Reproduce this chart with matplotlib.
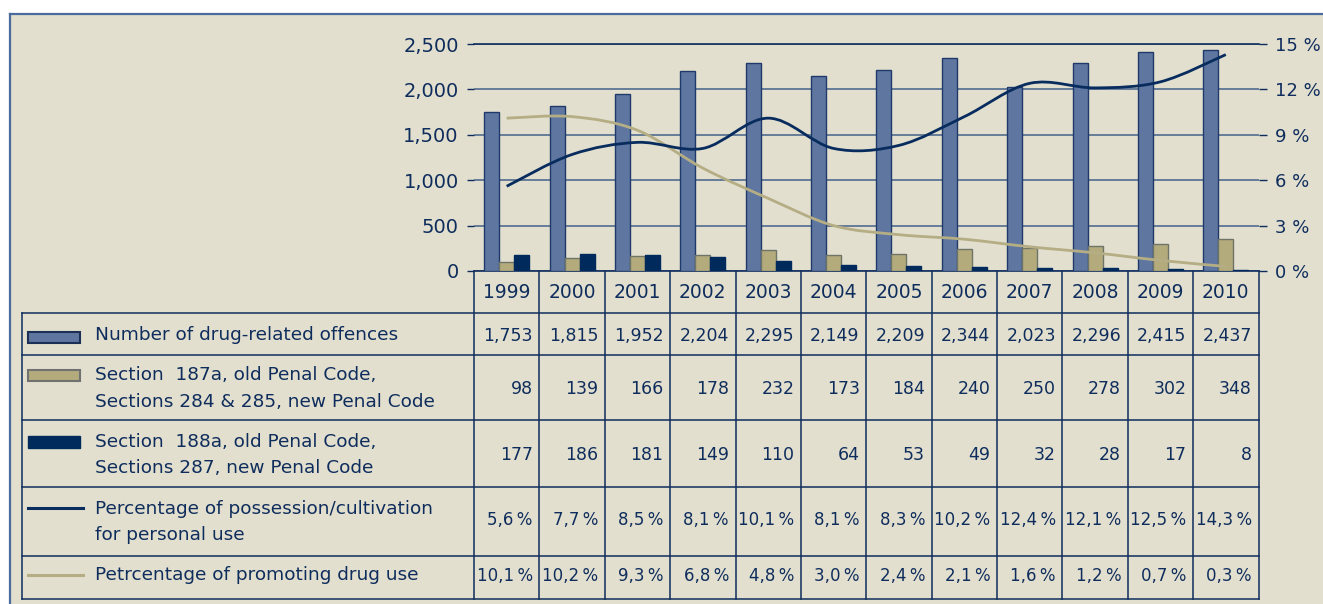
import matplotlib
matplotlib.use("Agg")
import matplotlib.pyplot as plt
from matplotlib.path import Path
from matplotlib.patches import PathPatch, Rectangle
from matplotlib.transforms import blended_transform_factory

plt.rcParams['font.family'] = ['DejaVu Sans']

# ---- data ----
years = ['1999', '2000', '2001', '2002', '2003', '2004',
         '2005', '2006', '2007', '2008', '2009', '2010']
offences = [1753, 1815, 1952, 2204, 2295, 2149, 2209, 2344, 2023, 2296, 2415, 2437]
sec_187a = [98, 139, 166, 178, 232, 173, 184, 240, 250, 278, 302, 348]
sec_188a = [177, 186, 181, 149, 110, 64, 53, 49, 32, 28, 17, 8]
pct_possession = [5.6, 7.7, 8.5, 8.1, 10.1, 8.1, 8.3, 10.2, 12.4, 12.1, 12.5, 14.3]
pct_promoting = [10.1, 10.2, 9.3, 6.8, 4.8, 3.0, 2.4, 2.1, 1.6, 1.2, 0.7, 0.3]

left_ticks = [0, 500, 1000, 1500, 2000, 2500]
right_ticks = [0, 3, 6, 9, 12, 15]

# ---- styling ----
W, H = 1323, 604
BG = '#e2dfcf'
FRAME = '#4a6b9b'
NAVY_TXT = '#0f2d5c'
GRID = '#5d7494'
C_BLUE = '#5f77a0'
C_TAN = '#b3ab7c'
C_NAVY = '#002a5c'
L_NAVY = '#082c5e'
L_TAN = '#b5ad84'

fig = plt.figure(figsize=(W / 100, H / 100), dpi=100, facecolor='white')

# pixel-coordinate background axes
bg = fig.add_axes([0, 0, 1, 1], zorder=0)
bg.set_xlim(0, W)
bg.set_ylim(H, 0)
bg.axis('off')
bg.add_patch(Rectangle((9.5, 14), W, H, facecolor=BG, edgecolor='none'))
bg.plot([9.5, 9.5], [H, 14], color=FRAME, lw=1.6)
bg.plot([9.5, W], [14, 14], color=FRAME, lw=1.6)

# chart axes
x0, x1, ytop, ybot = 474, 1258.5, 44, 271
ax = fig.add_axes([x0 / W, 1 - ybot / H, (x1 - x0) / W, (ybot - ytop) / H], zorder=2)
ax.patch.set_visible(False)
n = len(years)
xs = list(range(n))
bw = 0.23
ax.bar([x - bw for x in xs], offences, bw, color=C_BLUE, edgecolor='#1f3a6a', lw=1, zorder=3)
ax.bar(xs, sec_187a, bw, color=C_TAN, edgecolor='#6f7468', lw=1, zorder=3)
ax.bar([x + bw for x in xs], sec_188a, bw, color=C_NAVY, edgecolor=C_NAVY, lw=1, zorder=3)
ax.set_xlim(-0.5, n - 0.5)
ax.set_ylim(0, 2500)
ax.set_yticks(left_ticks)
ax.set_yticklabels([f'{t:,}' for t in left_ticks])
ax.set_xticks([])
ax.grid(axis='y', color=GRID, lw=1.3)
ax.set_axisbelow(True)
ax.tick_params(axis='y', length=5, width=1, color=NAVY_TXT, pad=6,
               labelsize=14, labelcolor=NAVY_TXT)
for s in ax.spines.values():
    s.set_color(NAVY_TXT)
    s.set_linewidth(1.2)
ax.spines['left'].set_visible(False)
ax.spines['right'].set_visible(False)

ax2 = ax.twinx()
ax2.set_ylim(0, 15)
ax2.set_yticks(right_ticks)
ax2.set_yticklabels([f'{t} %' for t in right_ticks])
ax2.tick_params(axis='y', length=6, width=1, color=NAVY_TXT, pad=6,
                labelsize=13, labelcolor=NAVY_TXT)
for s in ax2.spines.values():
    s.set_visible(False)


def smooth_path(xv, yv):
    # Catmull-Rom through the data points, drawn as matplotlib cubic Beziers
    pts = list(zip(xv, yv))
    verts = [pts[0]]
    codes = [Path.MOVETO]
    for i in range(len(pts) - 1):
        p0 = pts[i - 1] if i > 0 else pts[i]
        p1, p2 = pts[i], pts[i + 1]
        p3 = pts[i + 2] if i + 2 < len(pts) else pts[i + 1]
        c1 = (p1[0] + (p2[0] - p0[0]) / 6, p1[1] + (p2[1] - p0[1]) / 6)
        c2 = (p2[0] - (p3[0] - p1[0]) / 6, p2[1] - (p3[1] - p1[1]) / 6)
        verts += [c1, c2, p2]
        codes += [Path.CURVE4] * 3
    return Path(verts, codes)


ax2.add_patch(PathPatch(smooth_path(xs, pct_promoting), fill=False,
                        edgecolor=L_TAN, lw=2, zorder=4))
ax2.add_patch(PathPatch(smooth_path(xs, pct_possession), fill=False,
                        edgecolor=L_NAVY, lw=2, zorder=5))

# ---- table ----
tr = blended_transform_factory(ax.transData, bg.transData)
row_lines = [313, 355, 419.5, 486.5, 556, 599]
tab_left = 22
for y in row_lines:
    bg.plot([tab_left, x1], [y, y], color=NAVY_TXT, lw=1.1, zorder=1)
bg.plot([tab_left, tab_left], [313, 599], color=NAVY_TXT, lw=1.1, zorder=1)
for i in range(n + 1):
    bg.plot([i - 0.5, i - 0.5], [ybot, 599], color=NAVY_TXT, lw=1.1,
            transform=tr, zorder=1)

for i, yr in enumerate(years):
    bg.text(i, 293, yr, transform=tr, ha='center', va='center',
            fontsize=13.5, color=NAVY_TXT)


def pct(v):
    return f'{v:.1f}'.replace('.', ',') + '\u2009%'


rows = [
    ([f'{v:,}' for v in offences], 336, 12.5),
    ([str(v) for v in sec_187a], 389, 12.5),
    ([str(v) for v in sec_188a], 455, 12.5),
    ([pct(v) for v in pct_possession], 520, 12),
    ([pct(v) for v in pct_promoting], 576, 12),
]
for vals, y, fs in rows:
    for i, s in enumerate(vals):
        bg.text(i + 0.5 - 0.1, y, s, transform=tr, ha='right', va='center',
                fontsize=fs, color=NAVY_TXT)

# legend column
tx = 95
lab = dict(fontsize=13.3, color=NAVY_TXT, va='center', ha='left')
bg.add_patch(Rectangle((28, 332), 52, 11, facecolor=C_BLUE, edgecolor='#1c2f55', lw=1.5))
bg.text(tx, 335, 'Number of drug-related offences', **lab)
bg.add_patch(Rectangle((28, 369.5), 52, 11, facecolor=C_TAN, edgecolor='#6f7270', lw=1.5))
bg.text(tx, 375, 'Section  187a, old Penal Code,', **lab)
bg.text(tx, 402, 'Sections 284 & 285, new Penal Code', **lab)
bg.add_patch(Rectangle((28, 435.5), 52, 12, facecolor=C_NAVY, edgecolor=C_NAVY, lw=1))
bg.text(tx, 442, 'Section  188a, old Penal Code,', **lab)
bg.text(tx, 468, 'Sections 287, new Penal Code', **lab)
bg.plot([28, 83], [508, 508], color=L_NAVY, lw=2.2)
bg.text(tx, 509, 'Percentage of possession/cultivation', **lab)
bg.text(tx, 535, 'for personal use', **lab)
bg.plot([28, 83], [575, 575], color=L_TAN, lw=2.2)
bg.text(tx, 575, 'Petrcentage of promoting drug use', **lab)

fig.savefig('out.png', dpi=100, facecolor='white')
